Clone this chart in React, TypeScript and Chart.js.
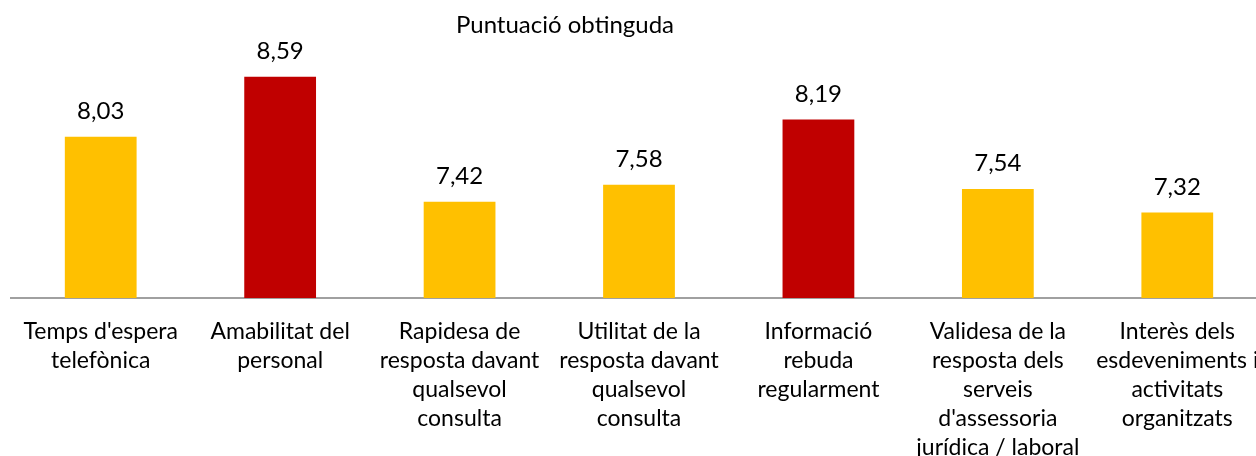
import React, { useEffect, useRef } from "react";
import { Chart, registerables } from "chart.js";

Chart.register(...registerables);

const TITLE = "Puntuació obtinguda";
const categories: string[][] = [
  ["Temps d'espera", "telefònica"],
  ["Amabilitat del", "personal"],
  ["Rapidesa de", "resposta davant", "qualsevol", "consulta"],
  ["Utilitat de la", "resposta davant", "qualsevol", "consulta"],
  ["Informació", "rebuda", "regularment"],
  ["Validesa de la", "resposta dels", "serveis", "d'assessoria", "jurídica / laboral"],
  ["Interès dels", "esdeveniments i", "activitats", "organitzats"],
];
const scores = [8.03, 8.59, 7.42, 7.58, 8.19, 7.54, 7.32];
const highlighted = [false, true, false, false, true, false, false];

const YELLOW = "#FFC000";
const RED = "#C00000";
const FONT = "Lato, 'Open Sans', sans-serif";

const labelsPlugin = {
  id: "valueLabels",
  afterDatasetsDraw(chart: any) {
    const ctx = chart.ctx;
    ctx.save();
    ctx.fillStyle = "#000";
    ctx.font = `24px ${FONT}`;
    ctx.textAlign = "center";
    ctx.textBaseline = "alphabetic";
    const meta = chart.getDatasetMeta(0);
    meta.data.forEach((bar: any, i: number) => {
      const v = scores[i].toFixed(2).replace(".", ",");
      ctx.fillText(v, bar.x, bar.y - 18);
    });
    ctx.font = `24px ${FONT}`;
    ctx.fillText(TITLE, 565, 33);
    ctx.restore();
  },
};

export default function App() {
  const ref = useRef<HTMLCanvasElement>(null);
  useEffect(() => {
    document.body.style.margin = "0";
    const chart = new Chart(ref.current!, {
      type: "bar",
      data: {
        labels: categories,
        datasets: [
          {
            data: scores,
            backgroundColor: highlighted.map((h) => (h ? RED : YELLOW)),
            borderWidth: 0,
            categoryPercentage: 1,
            barPercentage: 0.4,
          },
        ],
      },
      options: {
        animation: false,
        responsive: false,
        devicePixelRatio: 1,
        layout: { autoPadding: false, padding: { left: 11, right: 13, top: 33, bottom: 0 } },
        plugins: { legend: { display: false }, tooltip: { enabled: false }, title: { display: false } },
        scales: {
          x: {
            grid: { display: false, drawTicks: false },
            border: { display: true, color: "#a0a0a0", width: 2 },
            ticks: {
              color: "#000",
              font: { family: FONT, size: 23, lineHeight: 1.26 },
              padding: 19,
              maxRotation: 0,
              autoSkip: false,
            },
            afterFit: (scale: any) => {
              scale.height = 182;
            },
          },
          y: {
            display: false,
            min: 6.52,
            max: 9,
          },
        },
      },
      plugins: [labelsPlugin],
    });
    return () => chart.destroy();
  }, []);
  return (
    <div style={{ position: "absolute", left: 0, top: 0, width: 1256, height: 456, overflow: "hidden", background: "#fff" }}>
      <canvas ref={ref} width={1280} height={480} />
    </div>
  );
}
